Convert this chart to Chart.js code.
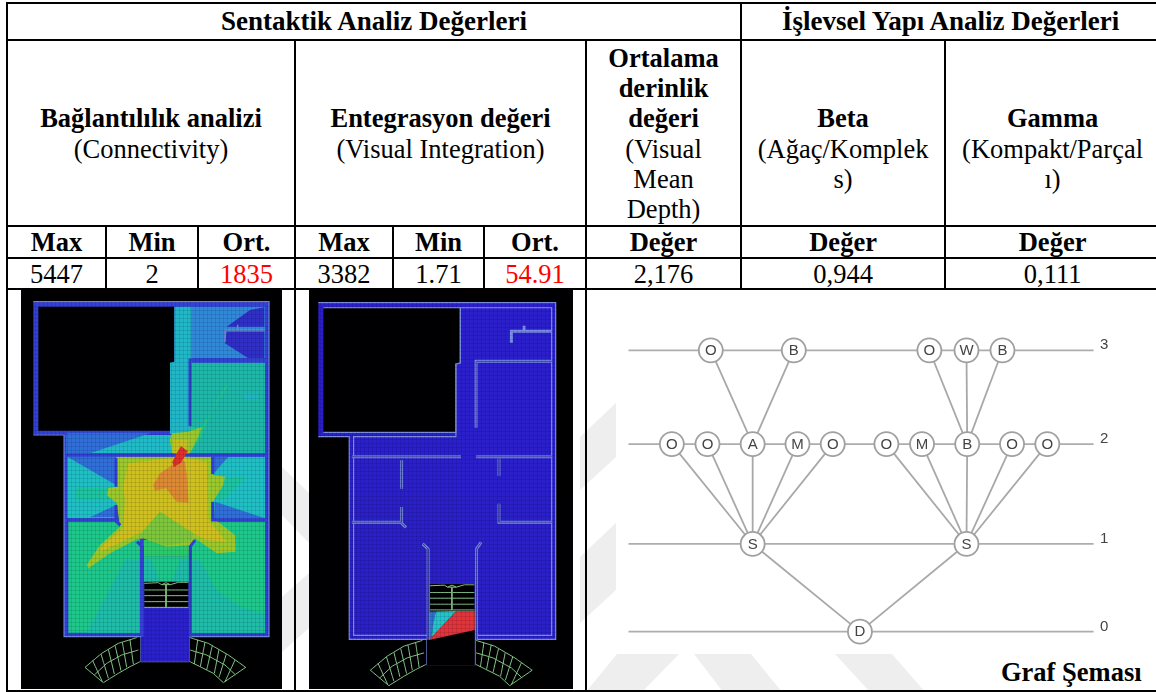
<!DOCTYPE html>
<html lang="tr">
<head>
<meta charset="utf-8">
<title>Sentaktik Analiz</title>
<script src="https://cdn.jsdelivr.net/npm/chart.js@4/dist/chart.umd.min.js"></script>
<style>
  html, body { margin: 0; padding: 0; background: #fff; }
  body { width: 1156px; height: 692px; position: relative; overflow: hidden; font-family: "Liberation Serif", serif; color: #000; }
  #mark { position: absolute; left: 0; top: 0; }
  table { position: absolute; left: 6px; top: 2px; width: 1154px; border-collapse: collapse; table-layout: fixed; font-size: 26.5px; line-height: 26px; text-align: center; }
  td { border: 2px solid #000; padding: 0; white-space: pre-line; vertical-align: middle; overflow: hidden; }
  td.tall { vertical-align: top; line-height: 30.2px; padding-top: 2px; }
  td.head { font-size: 27px; padding-bottom: 2px; }
  .red { color: #f00; }
  .box { position: absolute; }
  .rule { position: absolute; background: #000; }
  .plan { background: #000; filter: blur(.55px); }
  .graph { background: #fff; filter: blur(.35px); }
  #grafTitle { position: absolute; left: 1001px; top: 657px; font-size: 26.5px; font-weight: bold; line-height: 30px; }
</style>
</head>
<body>
<svg id="mark" width="1156" height="692" fill="#eeeeee">
  <polygon points="616,403 580,437 580,490 616,457"/>
  <polygon points="616,523 580,557 580,623 616,590"/>
  <polygon points="617,654 679,654 642,692 586,692"/>
  <polygon points="694,654 751,654 782,692 723,692"/>
  <polygon points="835,654 892,654 925,692 870,692"/>
  <polygon points="282,467 309,493 309,543 282,515"/>
  <polygon points="282,597 309,573 309,628 282,652"/>
</svg>
<table id="tbl"></table>
<div class="rule" style="left:6px;top:288px;width:2px;height:403px"></div>
<div class="rule" style="left:294px;top:288px;width:2px;height:403px"></div>
<div class="rule" style="left:585px;top:288px;width:2px;height:403px"></div>
<div class="rule" style="left:6px;top:690px;width:1150px;height:2px"></div>
<div class="box plan" style="left:21px;top:290px;width:261px;height:399px"><canvas id="mapConn"></canvas></div>
<div class="box plan" style="left:309px;top:290px;width:264px;height:399px"><canvas id="mapInt"></canvas></div>
<div class="box graph" style="left:616px;top:291px;width:540px;height:363px"><canvas id="graph"></canvas></div>
<div id="grafTitle"></div>

<script>
// ── TABLE TEXT ───────────────────────────────────────────
const colEdges = [7, 106, 198, 295, 393, 484, 586, 741, 945, 1160];
const rowHeights = [37, 186, 32, 31];
const groupTitles = ['Sentaktik Analiz Değerleri', 'İşlevsel Yapı Analiz Değerleri'];
const measureTitles = ['Bağlantılılık analizi', 'Entegrasyon değeri', 'Ortalama\nderinlik\ndeğeri', 'Beta', 'Gamma'];
const measureNotes = ['(Connectivity)', '(Visual Integration)', '(Visual\nMean\nDepth)', '(Ağaç/Komplek\ns)', '(Kompakt/Parçal\nı)'];
const measureBlankLines = [2, 2, 0, 2, 2];
const columnNames = ['Max', 'Min', 'Ort.', 'Max', 'Min', 'Ort.', 'Değer', 'Değer', 'Değer'];
const columnValues = ['5447', '2', '1835', '3382', '1.71', '54.91', '2,176', '0,944', '0,111'];
const redColumns = [2, 5];
const graphTitle = 'Graf Şeması';

// ── JUSTIFIED GRAPH ──────────────────────────────────────
const levels = [0, 1, 2, 3];
const levelHeights = [0, 0.935, 2, 3];
const nodeNames = ['O','B','O','W','B', 'O','O','A','M','O','O','M','B','O','O', 'S','S', 'D'];
const nodeX = [356,582,951,1052,1150, 250,347,470,592,688,834,931,1054,1176,1272, 470,1052, 762];
const nodeLevel = [3,3,3,3,3, 2,2,2,2,2,2,2,2,2,2, 1,1, 0];
const edges = [[0,7],[1,7],[2,12],[3,12],[4,12],[5,15],[6,15],[7,15],[8,15],[9,15],[10,16],[11,16],[12,16],[13,16],[14,16],[15,17],[16,17]];
const lineStart = 132;
const lineEnd = 1398;

// ── FLOOR PLAN (shared by both maps) ─────────────────────
const planOutline = [[55,35],[762,35],[762,1040],[522,1040],[522,1115],[378,1115],[378,1040],[147,1040],[147,435],[55,435]];
const planVoid = [[70,50],[478,50],[478,215],[465,218],[465,422],[70,422]];
const planInner = [[478,50],[750,50],[750,1028],[527,1028],[527,955],[385,955],[385,1028],[160,1028],[160,435],[465,435],[465,218],[478,215]];
const planWalls = [
  [[155,495],[480,495]], [[525,495],[750,495]],
  [[525,408],[525,210],[750,210]],
  [[155,690],[300,690],[316,706]],
  [[303,505],[303,590]], [[303,645],[303,690]],
  [[593,500],[593,552]], [[593,635],[593,690],[750,690]],
  [[366,755],[382,770],[382,1040]], [[540,750],[526,770],[526,1040]]
];
const nicheWalls = [[[750,120],[630,120],[630,155]], [[668,104],[668,120]]];
const stairPatch = [[388,875],[520,875],[520,952],[388,952]];
const stairLines = [
  [[388,880],[430,878],[440,884],[466,884],[490,877],[520,877]],
  [[388,900],[520,900]], [[388,917],[520,917]], [[388,935],[520,935]], [[388,952],[520,952]],
  [[453,884],[453,952]], [[440,884],[453,878],[466,884]]
];
const fanLines = [
  [[365,1043],[310,1060],[260,1090],[210,1132],[265,1178],[310,1150],[345,1130],[375,1115]],
  [[370,1080],[320,1095],[275,1120],[238,1155]],
  [[345,1050],[355,1122]], [[322,1056],[335,1132]], [[300,1066],[318,1142]], [[280,1078],[298,1152]], [[258,1092],[280,1165]], [[233,1112],[262,1175]],
  [[525,1043],[580,1060],[640,1095],[692,1132],[625,1178],[595,1150],[555,1130],[525,1115]],
  [[525,1080],[575,1095],[630,1125],[662,1155]],
  [[548,1050],[538,1122]], [[570,1056],[556,1130]], [[592,1066],[575,1140]], [[612,1078],[598,1150]], [[634,1092],[612,1162]], [[660,1110],[630,1175]]
];

// ── CONNECTIVITY ZONES ───────────────────────────────────
const connZones = [
  ['#1fb8c8', [[478,50],[530,50],[530,218],[525,432],[465,432],[465,218],[478,215]]],
  ['#2f88d8', [[530,50],[750,50],[750,205],[530,205]]],
  ['#2f2fc8', [[705,60],[748,52],[748,110],[635,110]]],
  ['#2f2fc8', [[635,125],[748,125],[748,205],[700,205],[630,160]]],
  ['#1cb8a8', [[530,218],[750,218],[750,490],[525,490]]],
  ['#1fb8c0', [[680,310],[730,310],[730,330],[690,330]]],
  ['#22c888', [[525,412],[560,412],[630,290],[640,285],[585,370],[560,440],[525,490]]],
  ['#1fbcc8', [[155,435],[465,435],[525,435],[525,490],[155,490]]],
  ['#2f6fd8', [[155,428],[410,428],[225,490],[155,490]]],
  ['#1fc0c4', [[157,500],[305,500],[305,685],[157,685]]],
  ['#2f6fd8', [[157,500],[303,500],[303,585]]],
  ['#2f6fd8', [[303,645],[303,682],[225,682]]],
  ['#1cc4a0', [[185,590],[285,595],[290,630],[180,630]]],
  ['#1fc0c4', [[596,500],[750,500],[750,685],[596,685]]],
  ['#2f6fd8', [[597,500],[640,500],[597,550]]],
  ['#2f6fd8', [[600,635],[750,685],[597,685]]],
  ['#1cc4a0', [[595,560],[695,560],[625,630],[597,630]]],
  ['#1cc98a', [[160,695],[375,695],[375,1028],[160,1028]]],
  ['#1cc98a', [[530,695],[750,695],[750,1028],[530,1028]]],
  ['#1dbda8', [[330,810],[375,810],[375,1028],[215,1028]]],
  ['#1dbda8', [[530,810],[555,810],[605,900],[675,950],[750,970],[750,1028],[530,1028]]],
  ['#2ccb6a', [[386,750],[524,750],[524,800],[386,800]]],
  ['#1cc98a', [[386,800],[524,800],[524,875],[386,875]]],
  ['#1dbda8', [[386,810],[410,810],[435,875],[386,875]]],
  ['#1dbda8', [[495,810],[520,810],[520,875],[470,875]]],
  ['#9cc92a', [[470,430],[520,425],[560,412],[550,440],[525,490],[470,490],[465,450]]],
  ['#c8c020', [[475,450],[520,450],[510,490],[475,490]]],
  ['#9cc92a', [[305,500],[595,500],[595,555],[630,560],[625,585],[597,630],[595,685],[660,735],[662,785],[605,790],[540,745],[525,765],[455,770],[385,745],[365,748],[285,790],[220,835],[215,825],[255,765],[315,710],[305,640],[275,615],[280,595],[305,590]]],
  ['#cfc01e', [[340,520],[465,505],[515,505],[575,515],[580,690],[635,755],[575,750],[535,730],[435,665],[380,725],[320,755],[255,785],[265,765],[325,715],[330,630],[325,590]]],
  ['#7dc83a', [[435,665],[535,730],[530,752],[455,768],[385,745],[367,745]]],
  ['#dd8a30', [[480,520],[495,505],[510,515],[517,570],[520,638],[485,635],[453,595],[420,602],[415,585],[435,550]]],
  ['#e0302a', [[498,468],[518,484],[498,518],[476,532],[472,515],[485,490]]],
  ['#000000', stairPatch],
  ['#2a20cc', [[385,955],[522,955],[522,1115],[378,1115],[378,1040],[385,1040]]]
];

// ── INTEGRATION ZONES ────────────────────────────────────
const intZones = [
  ['#000000', stairPatch],
  ['#000000', [[385,952],[521,952],[521,1118],[378,1118],[378,1042]]],
  ['#2e6fd0', [[385,957],[405,957],[392,1035],[385,1042]]],
  ['#22c4c8', [[405,957],[466,955],[392,1035],[397,995]]],
  ['#e0343a', [[466,955],[521,955],[521,1012],[385,1042]]]
];

// one closed zone
function zone(color, pts, edge) {
  return {
    data: pts.map(p => ({ x: p[0], y: p[1] })),
    showLine: true, fill: 'shape', backgroundColor: color,
    borderColor: edge || color, borderWidth: edge ? 1.2 : 0, pointRadius: 0, tension: 0
  };
}

// one open line
function stroke(color, width, pts) {
  return {
    data: pts.map(p => ({ x: p[0], y: p[1] })),
    showLine: true, fill: false, borderColor: color, borderWidth: width, pointRadius: 0, tension: 0
  };
}

function drawMap(id, w, h, xRange, yRange, base, zones, walls, edge) {
  const cv = document.getElementById(id);
  cv.width = w; cv.height = h;
  let sets = [zone(base, planOutline, edge || '#6f86df'), zone('#000000', planVoid, edge)];
  if (edge) sets.push(stroke(edge, 1.2, planInner.concat([planInner[0]])));
  zones.forEach(z => sets.push(zone(z[0], z[1])));
  planWalls.forEach(l => sets.push(stroke(walls.color, walls.width, l)));
  if (walls.core) planWalls.forEach(l => sets.push(stroke(walls.core, 1, l)));
  nicheWalls.forEach(l => sets.push(stroke(walls.niche, walls.nicheWidth, l)));
  stairLines.concat(fanLines).forEach(l => sets.push(stroke('#86c886', 1, l)));
  sets.forEach((s, i) => { s.order = -i; });

  new Chart(cv, {
    type: 'scatter',
    data: { datasets: sets },
    options: {
      responsive: false, animation: false, events: [],
      layout: { padding: 0, autoPadding: false },
      plugins: { legend: { display: false }, tooltip: { enabled: false } },
      scales: {
        x: { min: xRange[0], max: xRange[1], border: { display: false },
             grid: { color: 'rgba(0,0,30,0.1)', z: 1, drawTicks: false },
             ticks: { display: false, stepSize: 12, maxTicksLimit: 200 } },
        y: { min: yRange[0], max: yRange[1], reverse: true, border: { display: false },
             grid: { color: 'rgba(0,0,30,0.1)', z: 1, drawTicks: false },
             ticks: { display: false, stepSize: 12, maxTicksLimit: 200 } }
      }
    }
  });
}

// ── NODE LETTERS ─────────────────────────────────────────
const nodeLetters = {
  id: 'nodeLetters',
  afterDatasetsDraw(chart) {
    const ctx = chart.ctx;
    const pts = chart.getDatasetMeta(0).data;
    ctx.save();
    ctx.font = "15px 'Liberation Sans', sans-serif";
    ctx.fillStyle = '#444';
    ctx.textAlign = 'center';
    ctx.textBaseline = 'middle';
    pts.forEach((p, i) => ctx.fillText(nodeNames[i], p.x, p.y + 0.5));
    ctx.restore();
  }
};

function drawGraph() {
  const cv = document.getElementById('graph');
  cv.width = 540; cv.height = 363;
  const h = l => levelHeights[l];
  const sets = [{
    data: nodeX.map((x, i) => ({ x, y: h(nodeLevel[i]) })),
    showLine: false, pointRadius: 12, borderWidth: 1.8,
    pointBackgroundColor: '#fff', pointBorderColor: '#a0a0a0'
  }];
  edges.forEach(e => sets.push({
    data: [{ x: nodeX[e[0]], y: h(nodeLevel[e[0]]) }, { x: nodeX[e[1]], y: h(nodeLevel[e[1]]) }],
    showLine: true, borderColor: '#a8a8a8', borderWidth: 1.8, pointRadius: 0
  }));
  levels.forEach(l => sets.push({
    data: [{ x: lineStart, y: h(l) }, { x: lineEnd, y: h(l) }],
    showLine: true, borderColor: '#adadad', borderWidth: 1.8, pointRadius: 0
  }));

  new Chart(cv, {
    type: 'scatter',
    data: { datasets: sets },
    plugins: [nodeLetters],
    options: {
      responsive: false, animation: false, events: [],
      layout: { padding: 0, autoPadding: false },
      plugins: { legend: { display: false }, tooltip: { enabled: false } },
      scales: {
        x: { min: 98, max: 1410, display: false },
        y: {
          position: 'right', min: -0.238, max: 3.632, border: { display: false }, grid: { display: false, drawTicks: false },
          afterBuildTicks: axis => { axis.ticks = levelHeights.map(v => ({ value: v })); },
          afterFit: axis => {
            axis.width = 58;
            axis.paddingTop = axis.paddingBottom = axis.paddingLeft = axis.paddingRight = 0;
          },
          ticks: {
            padding: 2, labelOffset: -5, color: '#444',
            font: { family: "'Liberation Sans', sans-serif", size: 15 },
            callback: v => String(levels[levelHeights.indexOf(v)])
          }
        }
      }
    }
  });
}

// ── TABLE ────────────────────────────────────────────────
function buildTable() {
  const tbl = document.getElementById('tbl');
  const colgroup = colEdges.slice(1).map((e, i) => `<col style="width:${e - colEdges[i]}px">`).join('');
  const tr = (i, cells) => `<tr style="height:${rowHeights[i]}px">${cells}</tr>`;
  const m = i => `<td class="tall"${i < 2 ? ' colspan="3"' : ''}>${'<br>'.repeat(measureBlankLines[i])}<b>${measureTitles[i]}</b>\n${measureNotes[i]}</td>`;
  tbl.innerHTML = `<colgroup>${colgroup}</colgroup>` +
    tr(0, `<td class="head" colspan="7"><b>${groupTitles[0]}</b></td><td class="head" colspan="2"><b>${groupTitles[1]}</b></td>`) +
    tr(1, measureTitles.map((t, i) => m(i)).join('')) +
    tr(2, columnNames.map(n => `<td><b>${n}</b></td>`).join('')) +
    tr(3, columnValues.map((v, i) => `<td class="${redColumns.includes(i) ? 'red' : ''}">${v}</td>`).join(''));
  document.getElementById('grafTitle').textContent = graphTitle;
}

buildTable();
drawMap('mapConn', 261, 399, [18, 801], [0, 1197], '#3440d6', connZones, { color: '#3440d6', width: 3, niche: '#6f86c8', nicheWidth: 1.5 }, null);
drawMap('mapInt', 264, 399, [27.2, 813.6], [-2.8, 1188], '#2a1fc8', intZones, { color: '#7b8ee0', width: 3, core: '#3a3fa8', niche: '#7b8ee0', nicheWidth: 3 }, '#7b8ee0');
drawGraph();
</script>
</body>
</html>
